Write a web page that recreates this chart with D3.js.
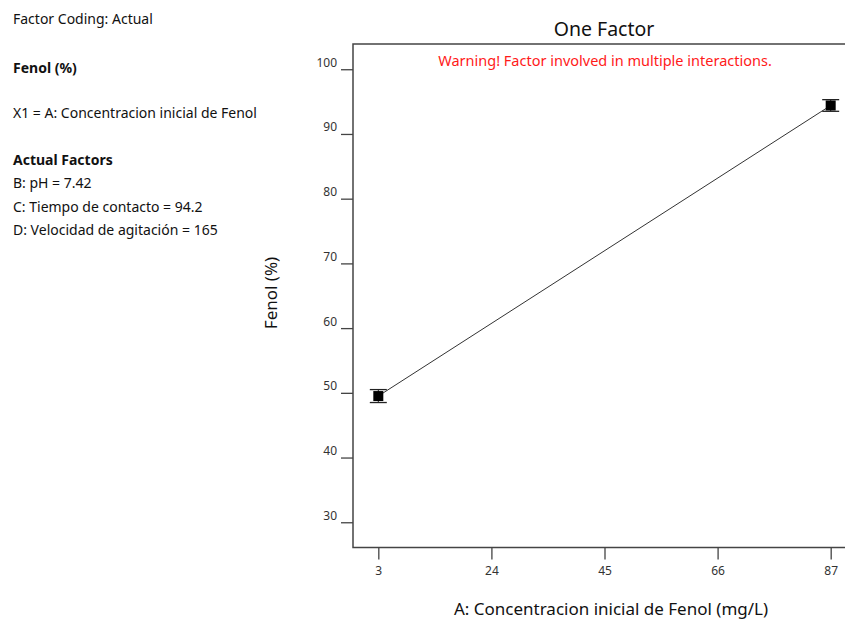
<!DOCTYPE html>
<html>
<head>
<meta charset="utf-8">
<script src="https://cdn.jsdelivr.net/npm/d3@7"></script>
<style>
  body { margin: 0; background: #fff; }
  text { font-family: "Noto Sans", "Open Sans", sans-serif; }
</style>
</head>
<body>
<script>
// Values
var concentracion = [3, 87];          // A: Concentracion inicial de Fenol (mg/L)
var fenol = [49.5, 94.4];             // Fenol (%) predicted
var errHalf = [1.0, 0.9];             // +/- error bar half width
var xTicks = [3, 24, 45, 66, 87];
var yTicks = [30, 40, 50, 60, 70, 80, 90, 100];

var infoLines = [
    {t: "Factor Coding: Actual", bold: false, y: 24},
    {t: "Fenol (%)", bold: true, y: 73},
    {t: "X1 = A: Concentracion inicial de Fenol", bold: false, y: 118},
    {t: "Actual Factors", bold: true, y: 165},
    {t: "B: pH = 7.42", bold: false, y: 188},
    {t: "C: Tiempo de contacto = 94.2", bold: false, y: 212},
    {t: "D: Velocidad de agitación = 165", bold: false, y: 235}
];

var width = 845, height = 619;
var plot = {left: 353, right: 856, top: 44, bottom: 547.5};

// Set the ranges
var x = d3.scaleLinear().domain([-1.7, 91.7]).range([plot.left, plot.right]);
var y = d3.scaleLinear().domain([26.1, 103.9]).range([plot.bottom, plot.top]);

var svg = d3.select("body")
    .append("svg")
        .attr("width", width)
        .attr("height", height);

// left info block
svg.append("g").selectAll("text")
    .data(infoLines)
    .enter().append("text")
        .attr("x", 13)
        .attr("y", function(d) { return d.y; })
        .attr("font-size", "14px")
        .attr("font-weight", function(d) { return d.bold ? "bold" : "normal"; })
        .attr("fill", "#111")
        .text(function(d) { return d.t; });

// Title
svg.append("text")
    .attr("x", 604).attr("y", 36)
    .attr("text-anchor", "middle")
    .attr("font-size", "19.5px")
    .attr("fill", "#111")
    .text("One Factor");

// Y axis
var yAxis = d3.axisLeft(y).tickValues(yTicks).tickSize(12).tickPadding(4);
var gy = svg.append("g")
    .attr("transform", "translate(" + plot.left + ",0)")
    .call(yAxis);
gy.select(".domain").remove();
gy.selectAll(".tick line").attr("stroke", "#444").attr("stroke-width", 1.3);
gy.selectAll(".tick text")
    .attr("font-size", "12px")
    .attr("fill", "#333")
    .attr("dy", "-0.25em");

// X axis
var xAxis = d3.axisBottom(x).tickValues(xTicks).tickSize(12).tickPadding(7);
var gx = svg.append("g")
    .attr("transform", "translate(0," + plot.bottom + ")")
    .call(xAxis);
gx.select(".domain").remove();
gx.selectAll(".tick line").attr("stroke", "#444").attr("stroke-width", 1.3);
gx.selectAll(".tick text")
    .attr("font-size", "12px")
    .attr("fill", "#333");

// Frame
svg.append("rect")
    .attr("x", plot.left).attr("y", plot.top)
    .attr("width", plot.right - plot.left)
    .attr("height", plot.bottom - plot.top)
    .attr("fill", "none")
    .attr("stroke", "#444")
    .attr("stroke-width", 1.5);

// Warning
svg.append("text")
    .attr("x", 605).attr("y", 66)
    .attr("text-anchor", "middle")
    .attr("font-size", "14.5px")
    .attr("fill", "#ff1a1a")
    .text("Warning! Factor involved in multiple interactions.");

// axis titles
svg.append("text")
    .attr("x", 611).attr("y", 615)
    .attr("text-anchor", "middle")
    .attr("font-size", "17px")
    .attr("fill", "#111")
    .text("A: Concentracion inicial de Fenol (mg/L)");

svg.append("text")
    .attr("transform", "translate(277,293) rotate(-90)")
    .attr("text-anchor", "middle")
    .attr("font-size", "17px")
    .attr("fill", "#111")
    .text("Fenol (%)");

var data = concentracion.map(function(c, i) {
    return {x: c, y: fenol[i], e: errHalf[i]};
});

// Add the line
var valueline = d3.line()
    .x(function(d) { return x(d.x); })
    .y(function(d) { return y(d.y); });

svg.append("path")
    .datum(data)
    .attr("d", valueline)
    .attr("fill", "none")
    .attr("stroke", "#333")
    .attr("stroke-width", 1);

// error bars + squares
var pts = svg.append("g").selectAll("g")
    .data(data)
    .enter().append("g");

pts.append("line")
    .attr("x1", function(d) { return x(d.x); })
    .attr("x2", function(d) { return x(d.x); })
    .attr("y1", function(d) { return y(d.y - d.e); })
    .attr("y2", function(d) { return y(d.y + d.e); })
    .attr("stroke", "#222");

pts.selectAll(".cap")
    .data(function(d) { return [d.y - d.e, d.y + d.e].map(function(v) { return {x: d.x, v: v}; }); })
    .enter().append("line")
        .attr("class", "cap")
        .attr("x1", function(d) { return x(d.x) - 8.5; })
        .attr("x2", function(d) { return x(d.x) + 8.5; })
        .attr("y1", function(d) { return y(d.v); })
        .attr("y2", function(d) { return y(d.v); })
        .attr("stroke", "#222")
        .attr("stroke-width", 1.3);

pts.append("rect")
    .attr("x", function(d) { return x(d.x) - 5; })
    .attr("y", function(d) { return y(d.y) - 5; })
    .attr("width", 10)
    .attr("height", 10)
    .attr("fill", "#000");
</script>
</body>
</html>
